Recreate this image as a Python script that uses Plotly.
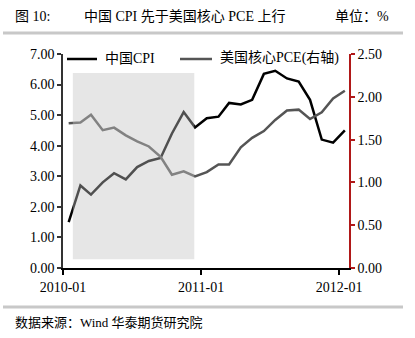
import plotly.graph_objects as go

months = ["2010-01", "2010-02", "2010-03", "2010-04", "2010-05", "2010-06", "2010-07",
          "2010-08", "2010-09", "2010-10", "2010-11", "2010-12", "2011-01", "2011-02",
          "2011-03", "2011-04", "2011-05", "2011-06", "2011-07", "2011-08", "2011-09",
          "2011-10", "2011-11", "2011-12", "2012-01"]
china_cpi = [1.5, 2.7, 2.4, 2.8, 3.1, 2.9, 3.3, 3.5, 3.6, 4.4, 5.1, 4.6, 4.9, 4.95,
             5.4, 5.35, 5.5, 6.35, 6.45, 6.2, 6.1, 5.5, 4.2, 4.1, 4.5]
us_core_pce = [1.69, 1.70, 1.79, 1.61, 1.64, 1.55, 1.48, 1.42, 1.30, 1.09, 1.13, 1.07,
               1.12, 1.21, 1.21, 1.41, 1.52, 1.60, 1.73, 1.84, 1.85, 1.74, 1.82, 1.98, 2.07]
series_names = ["中国CPI", "美国核心PCE(右轴)"]
series_colors = ["#000000", "#555555"]
tick_dates = ["2010-01-01", "2011-01-01", "2012-01-01"]
tick_labels = ["2010-01", "2011-01", "2012-01"]
left_ticks = [0, 1, 2, 3, 4, 5, 6, 7]
right_ticks = [0, 0.5, 1.0, 1.5, 2.0, 2.5]

x = [m + "-16" for m in months]

SERIF = "Liberation Serif, Times New Roman, Noto Sans CJK SC, serif"

fig = go.Figure()
fig.add_trace(go.Scatter(x=x, y=china_cpi, name=series_names[0], mode="lines",
                         line=dict(color=series_colors[0], width=2.5)))
fig.add_trace(go.Scatter(x=x, y=us_core_pce, name=series_names[1], mode="lines",
                         line=dict(color=series_colors[1], width=2.5), yaxis="y2"))

L, R, T, B = 63, 66, 54, 70
W, H = 415, 338
pw, ph = W - L - R, H - T - B


def px(xp):
    return (xp - L) / pw


def py(yp):
    return (H - B - yp) / ph


fig.update_layout(
    width=W, height=H,
    margin=dict(l=L, r=R, t=T, b=B, pad=0),
    paper_bgcolor="white", plot_bgcolor="white",
    font=dict(family=SERIF, size=14, color="#000000"),
    showlegend=False,
    xaxis=dict(type="date", range=["2010-01-01", "2012-01-27"],
               tickvals=tick_dates, ticktext=tick_labels,
               showgrid=False, zeroline=False, showline=True, linecolor="#000000", linewidth=1.5,
               ticks="outside", ticklen=5, tickcolor="#000000", tickwidth=1.5,
               tickfont=dict(size=14, family=SERIF)),
    yaxis=dict(range=[0, 7], tickvals=left_ticks, tickformat=".2f",
               showgrid=False, zeroline=False, showline=True, linecolor="#333333", linewidth=1.5,
               ticks="outside", ticklen=4, tickcolor="#333333", tickwidth=1.5,
               tickfont=dict(size=14, family=SERIF)),
    yaxis2=dict(range=[0, 2.5], tickvals=right_ticks, tickformat=".2f", overlaying="y", side="right",
                showgrid=False, zeroline=False, showline=True, linecolor="#b01818", linewidth=1.5,
                ticks="outside", ticklen=4, tickcolor="#b01818", tickwidth=1.5,
                tickfont=dict(size=14, family=SERIF)),
)

# translucent shaded period (drawn above the lines)
fig.add_shape(type="rect", xref="x", yref="y", x0="2010-01-27", x1="2010-12-14", y0=0.29, y1=6.38,
              fillcolor="rgba(195,195,195,0.41)", line=dict(width=0), layer="above")

# legend (manual, single row)
legend_pos = [(67, 97, 103), (180, 212, 218)]
for (x0, x1, tx), name, col in zip(legend_pos, series_names, series_colors):
    fig.add_shape(type="line", xref="paper", yref="paper", x0=px(x0), x1=px(x1), y0=py(59), y1=py(59),
                  line=dict(color=col, width=2.5))
    fig.add_annotation(text=name, xref="paper", yref="paper", x=px(tx), y=py(58),
                       xanchor="left", yanchor="middle", showarrow=False,
                       font=dict(size=14, family=SERIF), bgcolor="rgba(255,255,255,0)")

# header / footer rules
for yy in (33, 307):
    fig.add_shape(type="line", xref="paper", yref="paper", x0=px(3), x1=px(403), y0=py(yy), y1=py(yy),
                  line=dict(color="#c8c8c8", width=3))

fig.add_annotation(text="图 10:", xref="paper", yref="paper", x=px(13), y=py(16),
                   xanchor="left", yanchor="middle", showarrow=False, font=dict(size=14, family=SERIF))
fig.add_annotation(text="中国 CPI 先于美国核心 PCE 上行", xref="paper", yref="paper", x=px(82), y=py(16),
                   xanchor="left", yanchor="middle", showarrow=False, font=dict(size=14, family=SERIF))
fig.add_annotation(text="单位：%", xref="paper", yref="paper", x=px(333), y=py(16),
                   xanchor="left", yanchor="middle", showarrow=False, font=dict(size=14, family=SERIF))
fig.add_annotation(text="数据来源：Wind 华泰期货研究院", xref="paper", yref="paper", x=px(13), y=py(322),
                   xanchor="left", yanchor="middle", showarrow=False, font=dict(size=13, family=SERIF))

fig.write_html("out.html")
